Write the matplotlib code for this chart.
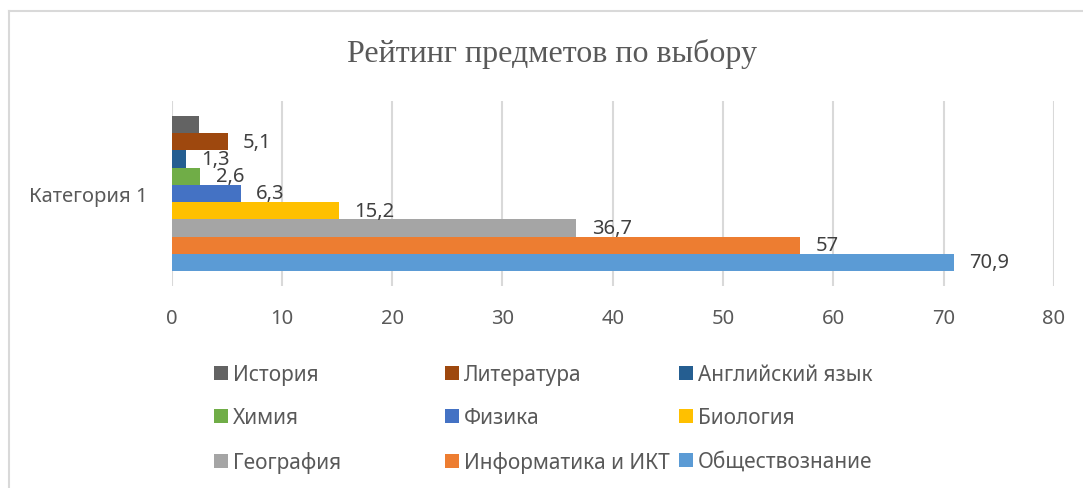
import matplotlib
matplotlib.use("Agg")
import matplotlib.pyplot as plt
from matplotlib.lines import Line2D
from matplotlib.patches import Patch

# данные (порядок серий как в Excel, снизу вверх)
subjects = ["Обществознание", "Информатика и ИКТ", "География", "Биология",
            "Физика", "Химия", "Английский язык", "Литература", "История"]
values = [70.9, 57, 36.7, 15.2, 6.3, 2.6, 1.3, 5.1, 2.5]
show_label = [True, True, True, True, True, True, True, True, False]
colors = ["#5B9BD5", "#ED7D31", "#A5A5A5", "#FFC000", "#4472C4",
          "#70AD47", "#255E91", "#9E480E", "#636363"]
category = "Категория 1"
xticks = [0, 10, 20, 30, 40, 50, 60, 70, 80]

plt.rcParams['font.family'] = ['Noto Sans', 'DejaVu Sans']

fig = plt.figure(figsize=(10.83, 4.89), dpi=100)
ax = fig.add_axes([0.1584, 0.4131, 0.8148, 0.3783])

n = len(values)
ypos = list(range(n))
bars = ax.barh(ypos, values, height=1.0, color=colors, zorder=3)

for b, v, show in zip(bars, values, show_label):
    if not show:
        continue
    txt = f"{v:g}".replace('.', ',')
    ax.annotate(txt, (b.get_width(), b.get_y() + b.get_height() / 2),
                xytext=(11, 0), textcoords="offset points",
                ha="left", va="center", fontsize=14.5, color="#404040")

ax.set_xlim(0, 80)
ax.set_ylim(-0.5 - 0.87, n - 0.5 + 0.87)
ax.set_xticks(xticks)
ax.set_xticklabels([str(t) for t in xticks], fontsize=14.5, color="#595959")
ax.set_yticks([(n - 1) / 2])
ax.set_yticklabels([category], fontsize=14.5, color="#595959")
ax.tick_params(axis="x", length=0, pad=16)
ax.tick_params(axis="y", length=0, pad=17)
for s in ax.spines.values():
    s.set_visible(False)
ax.grid(axis="x", color="#D9D9D9", linewidth=1.5, zorder=0)

fig.text(0.51, 0.89, "Рейтинг предметов по выбору", ha="center", va="center",
         fontsize=23, color="#595959", family="Liberation Serif")

# легенда: в Excel столбцы одинаковой ширины, поэтому три отдельные колонки
order = [8, 5, 2, 7, 4, 1, 6, 3, 0]
col_x = [214 / 1083, 445 / 1083, 679 / 1083]
for j, x0 in enumerate(col_x):
    idx = order[j * 3:(j + 1) * 3]
    handles = [Patch(facecolor=colors[i]) for i in idx]
    labels = [subjects[i] for i in idx]
    fig.legend(handles, labels, loc="upper left", bbox_to_anchor=(x0, 0.2536),
               frameon=False, fontsize=15, labelcolor="#595959",
               handlelength=0.65, handleheight=0.65, handletextpad=0.25,
               labelspacing=1.08, borderpad=0, borderaxespad=0)

# рамка диаграммы
fig.add_artist(Line2D([9 / 1083, 9 / 1083], [0, 1 - 12 / 489], color="#D9D9D9", linewidth=1.5))
fig.add_artist(Line2D([9 / 1083, 1], [1 - 12 / 489, 1 - 12 / 489], color="#D9D9D9", linewidth=1.5))

fig.savefig("out.png", dpi=100)
